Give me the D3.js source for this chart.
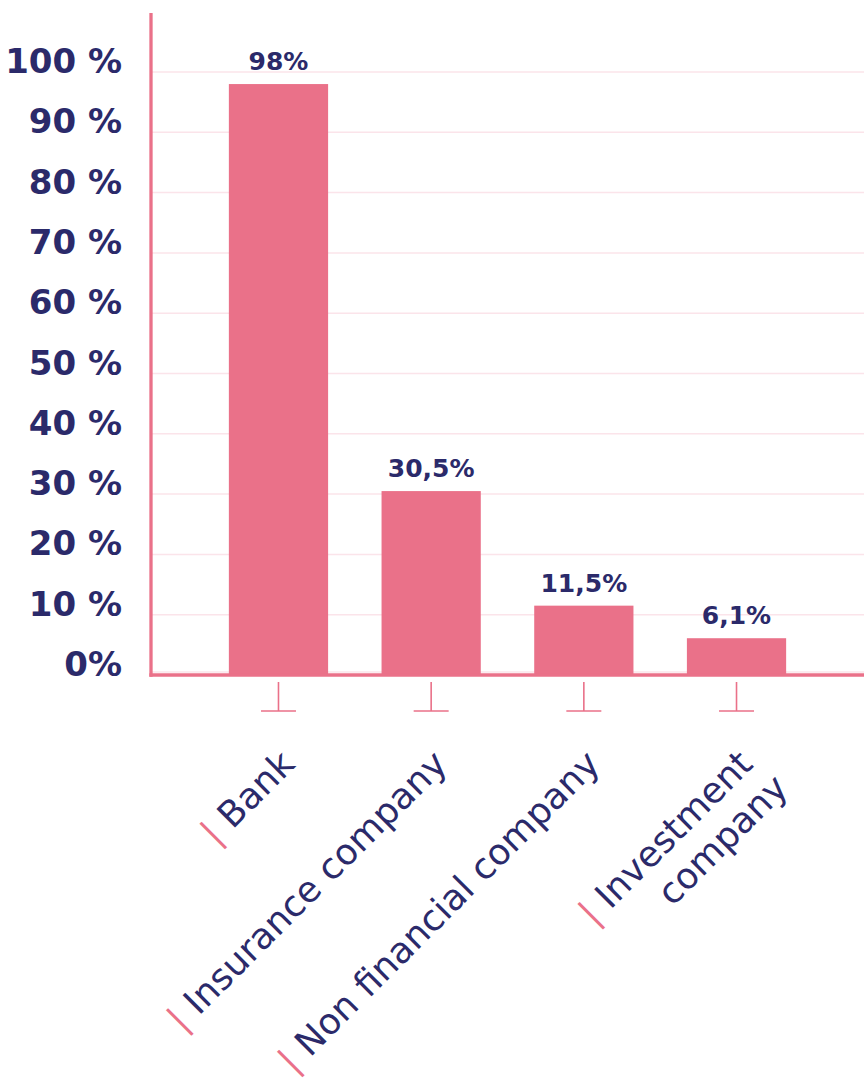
<!DOCTYPE html>
<html>
<head>
<meta charset="utf-8">
<script src="https://cdn.jsdelivr.net/npm/d3@7"></script>
<style>
  html, body { margin: 0; padding: 0; background: #ffffff; }
  svg { display: block; }
</style>
</head>
<body>
<div id="chart"></div>
<script>
// Share of respondents by type of institution
const categories = ["Bank", "Insurance company", "Non financial company", "Investment company"];
const labelLines = [["Bank"], ["Insurance company"], ["Non financial company"], ["Investment", "company"]];
const values = [98, 30.5, 11.5, 6.1];
const valueLabels = ["98%", "30,5%", "11,5%", "6,1%"];
const tickValues = [0, 10, 20, 30, 40, 50, 60, 70, 80, 90, 100];
const tickLabels = ["0%", "10 %", "20 %", "30 %", "40 %", "50 %", "60 %", "70 %", "80 %", "90 %", "100 %"];

const W = 864, H = 1079;
const PINK = "#ea7189";
const NAVY = "#2b2a6a";
const GRID = "#fbe4ea";
const FONT = "'DejaVu Sans', sans-serif";

const svg = d3.select("#chart").append("svg")
  .attr("width", W).attr("height", H);

const axisX = 151;
const y = d3.scaleLinear().domain([0, 100]).range([675, 72]);
const x = d3.scaleBand().domain(categories).range([axisX, W])
  .paddingInner(0.35).paddingOuter(0.51);

// gridlines
svg.append("g").selectAll("line").data(tickValues).join("line")
  .attr("x1", axisX).attr("x2", W)
  .attr("y1", d => y(d) - (d === 0 ? 3 : 0)).attr("y2", d => y(d) - (d === 0 ? 3 : 0))
  .attr("stroke", GRID).attr("stroke-width", 1.5);

// y tick labels
svg.append("g").selectAll("text").data(tickValues).join("text")
  .attr("x", 122).attr("y", d => y(d) + 1)
  .attr("text-anchor", "end")
  .attr("font-family", FONT).attr("font-weight", 700).attr("font-size", 34)
  .attr("fill", NAVY)
  .text((d, i) => tickLabels[i]);

// bars
svg.append("g").selectAll("rect").data(values).join("rect")
  .attr("x", (d, i) => x(categories[i]))
  .attr("width", x.bandwidth())
  .attr("y", d => y(d))
  .attr("height", d => y(0) - y(d))
  .attr("fill", PINK);

// value labels
svg.append("g").selectAll("text").data(values).join("text")
  .attr("x", (d, i) => x(categories[i]) + x.bandwidth() / 2)
  .attr("y", d => y(d) - 14)
  .attr("text-anchor", "middle")
  .attr("font-family", FONT).attr("font-weight", 700).attr("font-size", 25)
  .attr("fill", NAVY)
  .text((d, i) => valueLabels[i]);

// axes lines
svg.append("line")
  .attr("x1", axisX).attr("x2", axisX).attr("y1", 13).attr("y2", y(0) + 1.7)
  .attr("stroke", PINK).attr("stroke-width", 3.3);
svg.append("line")
  .attr("x1", axisX - 1.6).attr("x2", W).attr("y1", y(0)).attr("y2", y(0))
  .attr("stroke", PINK).attr("stroke-width", 3.3);

// inverted-T tick markers under each bar
const ticks = svg.append("g").selectAll("g").data(categories).join("g")
  .attr("transform", d => `translate(${x(d) + x.bandwidth() / 2},0)`);
ticks.append("line").attr("x1", 0).attr("x2", 0).attr("y1", 682).attr("y2", 711)
  .attr("stroke", PINK).attr("stroke-width", 1.6);
ticks.append("line").attr("x1", -17.5).attr("x2", 17.5).attr("y1", 711).attr("y2", 711)
  .attr("stroke", PINK).attr("stroke-width", 1.6);

// rotated category labels
const lab = svg.append("g").selectAll("text").data(categories).join("text")
  .attr("transform", d => `translate(${x(d) + x.bandwidth() / 2 + 18},766) rotate(-45)`)
  .attr("text-anchor", "end")
  .attr("font-family", FONT).attr("font-weight", 400).attr("font-size", 36)
  .attr("fill", NAVY);

lab.each(function (d, i) {
  const t = d3.select(this);
  labelLines[i].forEach((line, j) => {
    const ts = t.append("tspan").attr("x", j === 0 ? 0 : 8).attr("dy", j === 0 ? 0 : 42);
    if (j === 0) {
      ts.append("tspan").attr("fill", PINK).text("| ");
      ts.append("tspan").text(line);
    } else {
      ts.text(line);
    }
  });
});
</script>
</body>
</html>
